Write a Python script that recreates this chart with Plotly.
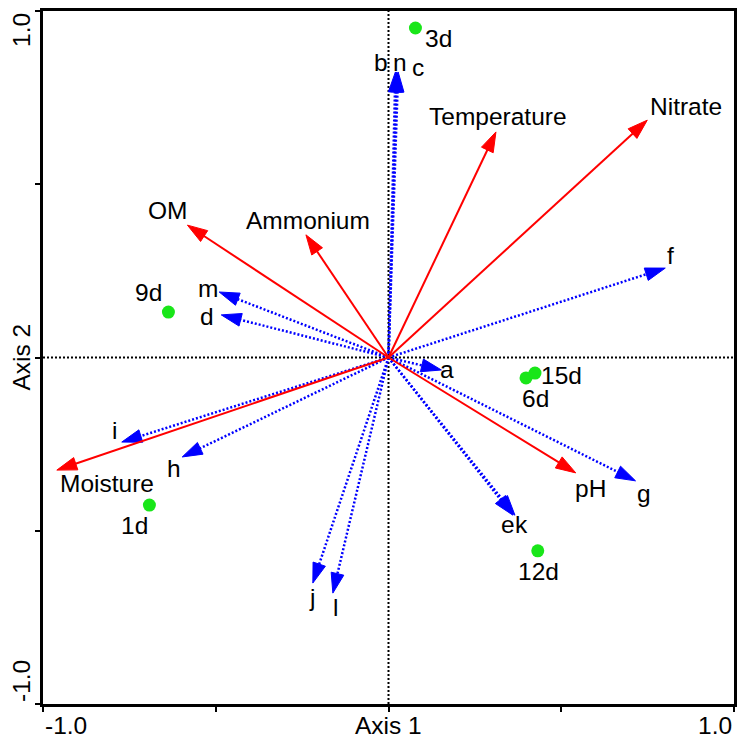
import plotly.graph_objects as go

# ---------------- data ----------------
env_names = ["Nitrate", "Temperature", "OM", "Ammonium", "Moisture", "pH"]
env_x = [0.749, 0.311, -0.582, -0.239, -0.960, 0.542]
env_y = [0.685, 0.651, 0.382, 0.354, -0.325, -0.333]

species_names = ["a", "b", "c", "d", "e", "f", "g", "h", "i", "j", "k", "l", "m", "n"]
species_x = [0.153, 0.020, 0.028, -0.484, 0.360, 0.801, 0.715, -0.597, -0.772, -0.219, 0.366, -0.161, -0.490, 0.024]
species_y = [-0.036, 0.824, 0.824, 0.123, -0.455, 0.258, -0.356, -0.287, -0.244, -0.651, -0.455, -0.680, 0.189, 0.824]

site_names = ["1d", "3d", "6d", "9d", "12d", "15d"]
site_x = [-0.692, 0.078, 0.398, -0.637, 0.432, 0.424]
site_y = [-0.426, 0.951, -0.059, 0.131, -0.558, -0.045]

axis_ticks = [-1.0, -0.5, 0.0, 0.5, 1.0]
x_title = "Axis 1"
y_title = "Axis 2"

# ---------------- label offsets (pixels) ----------------
env_offsets = {
    "Nitrate": (39, 14), "Temperature": (2, 15), "OM": (-20, 15),
    "Ammonium": (2, 14), "Moisture": (50, -13), "pH": (15, -16),
}
species_offsets = {
    "a": (6, 0), "b": (-14, 9), "c": (20, 4), "d": (-14, -2), "e": (-5, -9),
    "f": (5, 13), "g": (8, -13), "h": (-8, -12), "i": (-7, 12), "j": (-1, -14),
    "k": (7, -9), "l": (3, -14), "m": (-11, 4), "n": (3, 9),
}
site_offsets = {
    "1d": (-15, -20), "3d": (23, -11), "6d": (9, -21),
    "9d": (-20, 20), "12d": (1, -21), "15d": (27, -2),
}

FONT = "Arial, Liberation Sans, sans-serif"
FS = 24.5
RED = "#ff0000"
BLUE = "#0000ff"
GREEN = "#19e619"

fig = go.Figure()


def add_arrow(x, y, color, width, dash):
    fig.add_trace(go.Scatter(
        x=[0, x], y=[0, y], mode="lines+markers",
        line=dict(color=color, width=width, dash=dash),
        marker=dict(symbol=["circle", "arrow"], size=[0, 21], color=color, opacity=1,
                    angleref="previous", line=dict(width=1, color=color)),
        hoverinfo="skip", showlegend=False, cliponaxis=False))


for sx, sy in zip(species_x, species_y):
    add_arrow(sx, sy, BLUE, 2.5, "2px,2px")
for ex, ey in zip(env_x, env_y):
    add_arrow(ex, ey, RED, 2, "solid")

fig.add_trace(go.Scatter(
    x=site_x, y=site_y, mode="markers",
    marker=dict(size=13, color=GREEN, line=dict(width=0)),
    hoverinfo="skip", showlegend=False))

annotations = []


def add_label(text, x, y, off):
    annotations.append(dict(x=x, y=y, xref="x", yref="y", text=text, showarrow=False,
                            xshift=off[0], yshift=off[1], xanchor="center", yanchor="middle",
                            font=dict(family=FONT, size=FS, color="black")))


for n, x, y in zip(env_names, env_x, env_y):
    add_label(n, x, y, env_offsets[n])
for n, x, y in zip(species_names, species_x, species_y):
    add_label(n, x, y, species_offsets[n])
for n, x, y in zip(site_names, site_x, site_y):
    add_label(n, x, y, site_offsets[n])

# tick labels & axis titles as text
tfont = dict(family=FONT, size=FS, color="black")
annotations += [
    dict(x=axis_ticks[0], y=0, xref="x", yref="paper", text="-1.0", showarrow=False,
         xanchor="left", yanchor="middle", yshift=-21, font=tfont),
    dict(x=axis_ticks[-1], y=0, xref="x", yref="paper", text="1.0", showarrow=False,
         xanchor="right", yanchor="middle", yshift=-21, font=tfont),
    dict(x=axis_ticks[2], y=0, xref="x", yref="paper", text=x_title, showarrow=False,
         xanchor="center", yanchor="middle", yshift=-21, font=tfont),
    dict(x=0, y=axis_ticks[-1], xref="paper", yref="y", text="1.0", showarrow=False,
         xanchor="center", yanchor="top", xshift=-22, textangle=-90, font=tfont),
    dict(x=0, y=axis_ticks[0], xref="paper", yref="y", text="-1.0", showarrow=False,
         xanchor="center", yanchor="bottom", xshift=-22, textangle=-90, font=tfont),
    dict(x=0, y=axis_ticks[2], xref="paper", yref="y", text=y_title, showarrow=False,
         xanchor="center", yanchor="middle", xshift=-22, textangle=-90, font=tfont),
]

shapes = [
    dict(type="line", xref="x", yref="y", x0=0, x1=0, y0=-1, y1=1, layer="below",
         line=dict(color="black", width=2, dash="2px,2px")),
    dict(type="line", xref="x", yref="y", x0=-1, x1=1, y0=0, y1=0, layer="below",
         line=dict(color="black", width=2, dash="2px,2px")),
]

axis_common = dict(range=[-1, 1], showgrid=False, zeroline=False, showline=True,
                   linecolor="black", linewidth=2.5, mirror=True, ticks="outside",
                   ticklen=5, tickwidth=2, tickcolor="black", tickvals=axis_ticks,
                   showticklabels=False, fixedrange=True)

fig.update_layout(
    width=739, height=738,
    margin=dict(l=43, r=2, t=11, b=34),
    paper_bgcolor="white", plot_bgcolor="white",
    xaxis=axis_common, yaxis=axis_common,
    annotations=annotations, shapes=shapes,
    showlegend=False,
)

fig.write_html("out.html", config={"displayModeBar": False},
               post_script="document.body.style.margin='0';")
